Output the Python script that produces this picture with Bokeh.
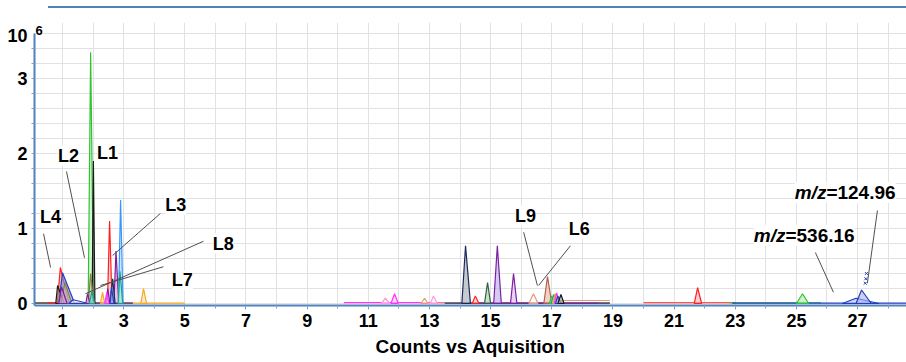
from bokeh.plotting import figure
from bokeh.models import FixedTicker, Range1d, Label, ColumnDataSource, Div
from bokeh.layouts import column
from bokeh.embed import file_html
from bokeh.resources import INLINE

# ---------------- data (intensity in units of 10^6 counts) ----------------
x_ticks = [1, 3, 5, 7, 9, 11, 13, 15, 17, 19, 21, 23, 25, 27]
x_minor = [2, 4, 6, 8, 10, 12, 14, 16, 18, 20, 22, 24, 26, 28]
y_ticks = [0, 1, 2, 3]
y_grid_minor = [0.2, 0.4, 0.6, 0.8, 1.2, 1.4, 1.6, 1.8, 2.2, 2.4, 2.6, 2.8, 3.2, 3.4, 3.6]
y_tick_marks = [0, 0.2, 0.4, 0.6, 0.8, 1, 1.2, 1.4, 1.6, 1.8, 2, 2.2, 2.4, 2.6, 2.8, 3, 3.2, 3.4]
y_scale_pos = 3.58          # where the "10" of the 10^6 scale factor sits on the axis
y_scale_base = "10"
y_scale_exp = "6"

GREEN = "#2ec42e"; BLACK = "#1a1a1a"; RED = "#ff1f1f"; BLUE = "#1f3fbf"
LBLUE = "#3399ff"; PURPLE = "#7b1fa2"; TEAL = "#17a589"; ORANGE = "#f5a623"
NAVY = "#1c2a5a"; MAGENTA = "#ff33ff"; PINK = "#ff99dd"; SALMON = "#e9967a"
BROWN = "#b0604a"; OLIVE = "#8a7a50"

# peaks: left base, apex position, apex height, right base
peak_left  = [0.83, 0.88, 0.78, 0.95, 0.88, 1.20, 1.84, 1.97, 1.84, 1.76, 1.88,
              2.24, 2.47, 2.68, 2.83, 2.82, 2.56, 2.42, 2.38, 2.55, 3.56,
              11.42, 11.74, 12.72, 13.03, 14.06, 14.40, 14.80, 15.10, 15.65, 16.25,
              16.74, 16.92, 16.98, 17.03, 17.08, 17.12, 17.20,
              21.66, 25.00, 26.50, 26.95]
peak_x     = [0.93, 1.00, 0.84, 1.08, 0.97, 1.35, 1.92, 2.01, 1.92, 1.82, 1.96,
              2.31, 2.54, 2.75, 2.90, 2.88, 2.64, 2.48, 2.45, 2.60, 3.65,
              11.56, 11.86, 12.84, 13.13, 14.18, 14.50, 14.90, 15.22, 15.75, 16.40,
              16.86, 17.00, 17.06, 17.11, 17.16, 17.20, 17.30,
              21.77, 25.20, 26.95, 27.13]
peak_y     = [0.48, 0.41, 0.24, 0.28, 0.22, 0.05, 3.35, 1.90, 0.40, 0.13, 0.16,
              0.15, 1.10, 0.70, 1.38, 0.43, 0.33, 0.20, 0.15, 0.22, 0.20,
              0.07, 0.13, 0.07, 0.10, 0.77, 0.10, 0.28, 0.77, 0.40, 0.13,
              0.36, 0.10, 0.12, 0.13, 0.14, 0.10, 0.12,
              0.21, 0.13, 0.07, 0.18]
peak_right = [1.22, 1.40, 1.05, 1.30, 1.15, 1.85, 2.02, 2.06, 2.02, 1.90, 2.05,
              2.38, 2.62, 2.84, 2.98, 2.97, 2.72, 2.55, 2.52, 2.68, 3.75,
              11.70, 11.98, 12.95, 13.25, 14.34, 14.62, 15.00, 15.35, 15.86, 16.55,
              17.00, 17.10, 17.15, 17.20, 17.25, 17.30, 17.40,
              21.90, 25.40, 27.70, 27.45]
peak_color = [RED, BLUE, BLACK, OLIVE, PURPLE, BLUE, GREEN, BLACK, OLIVE, PURPLE, TEAL,
              ORANGE, RED, PURPLE, LBLUE, TEAL, NAVY, PURPLE, MAGENTA, BLUE, ORANGE,
              PINK, MAGENTA, SALMON, PINK, NAVY, RED, "#2f5f3f", PURPLE, PURPLE, SALMON,
              BROWN, GREEN, TEAL, ORANGE, MAGENTA, BLUE, BLACK,
              RED, GREEN, BLUE, BLUE]
peak_fill  = ["#f5a0a0", "#8090d8", "#909090", "#c8c0a0", "#c8a0d8", "#ffffff", "#b8f0b8", "#707070",
              "#c8c0a0", "#d8b0e8", "#a0e0d0",
              "#fbd9a0", "#ffb0b0", "#c8a0d8", "#b0d8ff", "#a0e0d0", "#8890b8", "#c8a0d8", "#ffb0ff",
              "#a0b0e8", "#fbd9a0",
              "#ffffff", "#ffc0ff", "#ffffff", "#ffffff", "#a0a8b0", "#ffc0c0", "#a8c8b0", "#b8a8e8",
              "#d8b8e8", "#ffffff",
              "#f0b0a0", "#b8f0b8", "#a0e0d0", "#fbd9a0", "#ffb0ff", "#a0b0e8", "#a0a0a0",
              "#ffb0b0", "#b0e8b0", "#b0b8f0", "#a8b0f0"]

# baselines: start, end, level, colour
base_x0 = [0.10, 0.10, 0.10, 0.50, 1.50, 1.70, 2.00,
           10.20, 12.70, 17.30, 13.50, 14.50,
           20.00, 22.80, 22.90]
base_x1 = [1.90, 2.00, 1.00, 3.00, 5.00, 3.30, 3.30,
           13.50, 18.90, 18.90, 18.90, 18.50,
           23.00, 25.80, 28.60]
base_y  = [0.010, 0.005, 0.008, 0.006, 0.004, 0.006, 0.004,
           0.012, 0.010, 0.040, 0.006, 0.003,
           0.010, 0.010, 0.006]
base_color = [BLUE, NAVY, OLIVE, RED, ORANGE, GREEN, PURPLE,
              MAGENTA, SALMON, SALMON, NAVY, PURPLE,
              RED, GREEN, BLUE]

# scatter marks above the last peak
mark_x = [27.25, 27.27, 27.29]
mark_y = [0.27, 0.33, 0.40]

# annotations
lab_text = ["L4", "L2", "L1", "L3", "L8", "L7", "L9", "L6"]
lab_x    = [0.61, 1.20, 2.47, 4.70, 6.26, 4.92, 16.14, 17.90]
lab_y    = [1.15, 1.97, 2.01, 1.31, 0.80, 0.31, 1.17, 1.00]
lead_x0 = [0.38, 1.13, 4.20, 5.61, 4.30, 16.08, 17.61, 25.62, 27.65]
lead_y0 = [0.93, 1.76, 1.20, 0.83, 0.49, 0.95, 0.77, 0.68, 1.24]
lead_x1 = [0.61, 1.72, 2.64, 1.75, 2.24, 16.53, 16.57, 26.21, 27.32]
lead_y1 = [0.48, 0.61, 0.64, 0.13, 0.24, 0.24, 0.24, 0.15, 0.27]
mz_vals  = ["=124.96", "=536.16"]
mz_x     = [25.98, 24.64]
mz_y     = [1.48, 0.91]

x_title = "Counts vs Aquisition"

# ---------------- figure ----------------
FONT = "Liberation Sans"
AXIS_BLUE = "#4f81bd"
TICK_COL = "#7f9fcf"
X0, X1 = 0.0844, 28.6
Y0, Y1 = -0.0267, 3.747

p = figure(width=906, height=354, x_range=Range1d(X0, X1),
           y_range=Range1d(Y0, Y1), output_backend="svg",
           toolbar_location=None, min_border_left=34, min_border_right=0,
           min_border_top=14, min_border_bottom=57)
p.outline_line_color = None
p.background_fill_color = "white"
p.border_fill_color = "white"

p.xaxis.ticker = FixedTicker(ticks=x_ticks, minor_ticks=x_minor)
p.yaxis.ticker = FixedTicker(ticks=y_ticks + [y_scale_pos], minor_ticks=y_tick_marks)
p.yaxis.major_label_overrides = {y_scale_pos: y_scale_base}
p.xgrid.ticker = FixedTicker(ticks=x_ticks, minor_ticks=x_minor)
p.ygrid.ticker = FixedTicker(ticks=y_ticks, minor_ticks=y_grid_minor)
for g in (p.xgrid, p.ygrid):
    g.grid_line_color = "#e2e2e2"
    g.minor_grid_line_color = "#e2e2e2"
    g.grid_line_width = 1
p.ygrid.bounds = (0, 3.6)
p.yaxis.bounds = (Y0, 3.6)

for ax in (p.xaxis, p.yaxis):
    ax.axis_line_color = AXIS_BLUE
    ax.axis_line_width = 2
    ax.major_tick_line_color = TICK_COL
    ax.minor_tick_line_color = TICK_COL
    ax.major_tick_in = 0
    ax.minor_tick_in = 0
    ax.minor_tick_out = 3
    ax.major_label_text_font = FONT
    ax.major_label_text_font_style = "bold"
    ax.major_label_text_color = "black"
p.xaxis.major_tick_out = 4
p.yaxis.major_tick_out = 0
p.xaxis.major_label_text_font_size = "18px"
p.yaxis.major_label_text_font_size = "18px"
p.xaxis.major_label_standoff = 4
p.yaxis.major_label_standoff = 4
p.xaxis.axis_label = x_title
p.xaxis.axis_label_text_font = FONT
p.xaxis.axis_label_text_font_style = "bold"
p.xaxis.axis_label_text_font_size = "19px"
p.xaxis.axis_label_standoff = 6
p.xaxis.axis_label_text_color = "black"

# baselines
p.segment(x0="x0", y0="y", x1="x1", y1="y", color="c", line_width=1.2,
          source=ColumnDataSource(dict(x0=base_x0, x1=base_x1, y=base_y, c=base_color)))

# peaks
pk = ColumnDataSource(dict(
    xs=[[l, c, r] for l, c, r in zip(peak_left, peak_x, peak_right)],
    ys=[[0, h, 0] for h in peak_y],
    line=peak_color, fill=peak_fill))
p.patches(xs="xs", ys="ys", fill_color="fill", fill_alpha=0.6,
          line_color="line", line_width=1.2, source=pk)

p.scatter(mark_x, mark_y, marker="x", size=4, line_color=BLUE, line_width=1)

# leader lines
p.segment(lead_x0, lead_y0, lead_x1, lead_y1, line_color="#505050", line_width=1)

for t, x, y in zip(lab_text, lab_x, lab_y):
    p.add_layout(Label(x=x, y=y, text=t, text_align="center", text_baseline="middle",
                       text_font=FONT, text_font_style="bold", text_font_size="18px",
                       text_color="black", background_fill_color="white"))
for t, x, y in zip(mz_vals, mz_x, mz_y):
    p.add_layout(Label(x=x, y=y, text="m/z", text_align="right", text_baseline="middle",
                       text_font=FONT, text_font_style="bold italic", text_font_size="19px",
                       text_color="black", background_fill_color="white"))
    p.add_layout(Label(x=x, y=y, text=t, text_align="left", text_baseline="middle",
                       text_font=FONT, text_font_style="bold", text_font_size="19px",
                       text_color="black", background_fill_color="white"))

# exponent of the 10^6 scale factor (superscript next to the "10" tick label)
p.add_layout(Label(x=X0, y=3.64, text=y_scale_exp, text_align="left", text_baseline="alphabetic",
                   x_offset=1, text_font=FONT, text_font_style="bold", text_font_size="13px",
                   text_color="black"))

top_rule = Div(text="", width=858, height=2, margin=(6, 0, 0, 48),
               styles={"background-color": AXIS_BLUE})
layout = column(top_rule, p, spacing=0)

open("out.html", "w").write(file_html(layout, INLINE))
